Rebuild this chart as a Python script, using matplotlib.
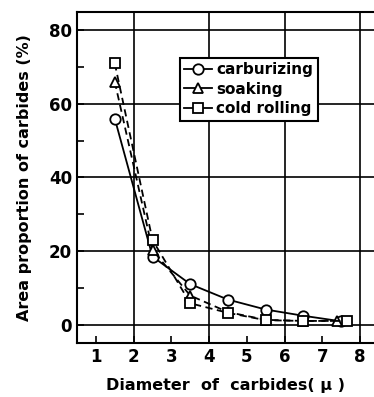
import matplotlib.pyplot as plt
from matplotlib.ticker import MultipleLocator

# values
x_carb = [1.5, 2.5, 3.5, 4.5, 5.5, 6.5, 7.5]
carburizing = [56.0, 18.5, 11.0, 6.8, 4.1, 2.4, 0.9]
x_soak = [1.5, 2.5, 3.5, 4.5, 5.5, 6.5, 7.4]
soaking = [66.0, 20.3, 7.9, 3.4, 1.3, 1.0, 1.0]
x_cold = [1.5, 2.5, 3.5, 4.5, 5.5, 6.5, 7.65]
cold_rolling = [71.0, 23.0, 5.8, 3.2, 1.2, 1.0, 1.0]

fig = plt.figure(figsize=(3.74, 3.97), dpi=100)
ax = fig.add_axes([0.206, 0.136, 0.794, 0.834])

style = dict(color='black', markerfacecolor='white', markeredgecolor='black',
             markersize=7.5, markeredgewidth=1.3, linewidth=1.3)
ax.plot(x_carb, carburizing, '-', marker='o', label='carburizing', zorder=3, **style)
ax.plot(x_soak, soaking, '--', dashes=(4, 2.5), marker='^', label='soaking', zorder=4, **style)
ax.plot(x_cold, cold_rolling, '--', dashes=(4, 2.5), marker='s', label='cold rolling', zorder=5, **style)

ax.set_xlim(0.5, 8.37)
ax.set_ylim(-5, 85)
ax.set_xticks(range(1, 9))
ax.set_yticks([0, 20, 40, 60, 80])
ax.yaxis.set_minor_locator(MultipleLocator(10))
ax.tick_params(direction='in', length=5, width=1.2, labelsize=12)
ax.tick_params(which='minor', direction='in', length=5, width=1.2)
for lab in ax.get_xticklabels() + ax.get_yticklabels():
    lab.set_fontweight('bold')

# grid at even x only, and the y majors
for xv in [2, 4, 6, 8]:
    ax.axvline(xv, color='black', linewidth=1.2, zorder=1)
for yv in [0, 20, 40, 60, 80]:
    ax.axhline(yv, color='black', linewidth=1.2, zorder=1)

ax.spines['right'].set_visible(False)
for s in ['left', 'bottom', 'top']:
    ax.spines[s].set_linewidth(1.5)

ax.set_xlabel('Diameter  of  carbides( μ )', fontsize=11.5, fontweight='bold', labelpad=9)
ax.set_ylabel('Area proportion of carbides (%)', fontsize=11.5, fontweight='bold', labelpad=12)

leg = ax.legend(loc='upper left', bbox_to_anchor=(0.32, 0.885), frameon=True, fancybox=False,
                edgecolor='black', handlelength=1.8, handletextpad=0.3, borderpad=0.3,
                labelspacing=0.3, prop={'weight': 'bold', 'size': 11})
leg.get_frame().set_linewidth(1.5)
leg.get_frame().set_alpha(1)
for h in leg.get_lines():
    h.set_linestyle('-')

fig.savefig('out.png', dpi=100)
